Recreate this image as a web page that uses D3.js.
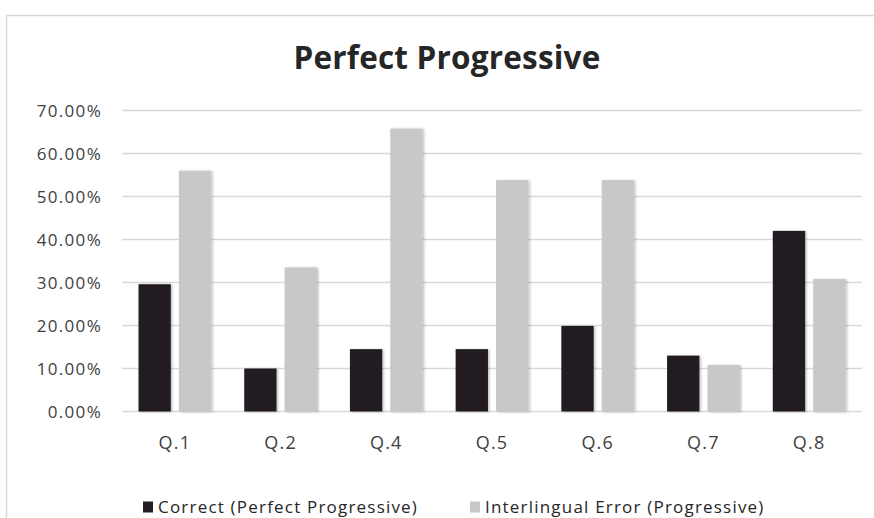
<!DOCTYPE html>
<html>
<head>
<meta charset="utf-8">
<script src="https://cdn.jsdelivr.net/npm/d3@7"></script>
<style>
  html, body { margin: 0; padding: 0; background: #fff; }
  svg { display: block; }
</style>
</head>
<body>
<svg id="chart" width="874" height="518"></svg>
<script>
// Question labels along the x axis
const categories = ["Q.1", "Q.2", "Q.4", "Q.5", "Q.6", "Q.7", "Q.8"];
// Share of answers per question (fractions of 1)
const correctValues = [0.296, 0.100, 0.145, 0.145, 0.199, 0.130, 0.420];
const interlingualValues = [0.560, 0.335, 0.658, 0.538, 0.538, 0.108, 0.308];
const seriesNames = ["Correct (Perfect Progressive)", "Interlingual Error (Progressive)"];
const seriesColors = ["#231f20", "#c8c8ca"];
const yTicks = [0, 0.1, 0.2, 0.3, 0.4, 0.5, 0.6, 0.7];
const chartTitle = "Perfect Progressive";

const svg = d3.select("#chart");
const font = "'Open Sans', Lato, sans-serif";

// Outer chart frame (runs off the right and bottom edges)
svg.append("rect")
  .attr("x", 6.5).attr("y", 15.5)
  .attr("width", 900).attr("height", 600)
  .attr("fill", "#fff")
  .attr("stroke", "#d9d9d9").attr("stroke-width", 1.5);

const defs = svg.append("defs");
const shadow = defs.append("filter").attr("id", "barShadow")
  .attr("x", "-20%").attr("y", "-5%").attr("width", "150%").attr("height", "115%");
shadow.append("feDropShadow")
  .attr("dx", 1.5).attr("dy", 0.5).attr("stdDeviation", 1.2)
  .attr("flood-color", "#000").attr("flood-opacity", 0.25);

const plot = { left: 122, right: 862, top: 110.5, bottom: 411.5 };

const x = d3.scaleBand().domain(categories).range([plot.left, plot.right]).padding(0);
const inner = d3.scaleBand().domain([0, 1])
  .range([16.5, x.bandwidth() - 16.5]).paddingInner(0.2);
const y = d3.scaleLinear().domain([0, 0.7]).range([plot.bottom, plot.top]);

// Horizontal gridlines
svg.append("g")
  .selectAll("line")
  .data(yTicks)
  .join("line")
  .attr("x1", plot.left).attr("x2", plot.right)
  .attr("y1", d => y(d)).attr("y2", d => y(d))
  .attr("stroke", "#d9d9d9").attr("stroke-width", 1.5);

// Y axis labels
const yAxis = d3.axisLeft(y).tickValues(yTicks)
  .tickFormat(d => (d * 100).toFixed(2) + "%")
  .tickSize(0).tickPadding(0);
svg.append("g")
  .attr("transform", `translate(102,0)`)
  .call(yAxis)
  .call(g => g.select(".domain").remove())
  .call(g => g.selectAll("text")
    .attr("font-family", font).attr("font-size", 17)
    .attr("letter-spacing", 1.3)
    .attr("fill", "#404040").attr("dy", "0.35em"));

// Bars
const series = [correctValues, interlingualValues];
series.forEach((vals, si) => {
  svg.append("g")
    .attr("filter", "url(#barShadow)")
    .selectAll("rect")
    .data(vals.map((v, i) => ({ cat: categories[i], v })))
    .join("rect")
    .attr("x", d => x(d.cat) + inner(si))
    .attr("width", inner.bandwidth())
    .attr("y", d => y(d.v))
    .attr("height", d => y(0) - y(d.v))
    .attr("fill", seriesColors[si]);
});

// X axis category labels
const xAxis = d3.axisBottom(x).tickSize(0).tickPadding(0);
svg.append("g")
  .attr("transform", `translate(0,443)`)
  .call(xAxis)
  .call(g => g.select(".domain").remove())
  .call(g => g.selectAll("text")
    .attr("font-family", font).attr("font-size", 18)
    .attr("letter-spacing", 1.2)
    .attr("fill", "#404040").attr("dy", "0.35em").attr("y", 0));

// Title
svg.append("text")
  .attr("x", 447).attr("y", 69)
  .attr("text-anchor", "middle")
  .attr("font-family", font).attr("font-weight", 700).attr("font-size", 31.5)
  .attr("letter-spacing", 0.2)
  .attr("fill", "#262626")
  .text(chartTitle);

// Legend
const legendItems = [
  { name: seriesNames[0], color: seriesColors[0], x: 143 },
  { name: seriesNames[1], color: seriesColors[1], x: 470 }
];
const legend = svg.append("g");
legendItems.forEach(it => {
  legend.append("rect")
    .attr("x", it.x).attr("y", 501.5)
    .attr("width", 10).attr("height", 11)
    .attr("fill", it.color);
  legend.append("text")
    .attr("x", it.x + 15).attr("y", 513)
    .attr("font-family", font).attr("font-size", 17)
    .attr("letter-spacing", 1.2)
    .attr("fill", "#262626")
    .text(it.name);
});
</script>
</body>
</html>
